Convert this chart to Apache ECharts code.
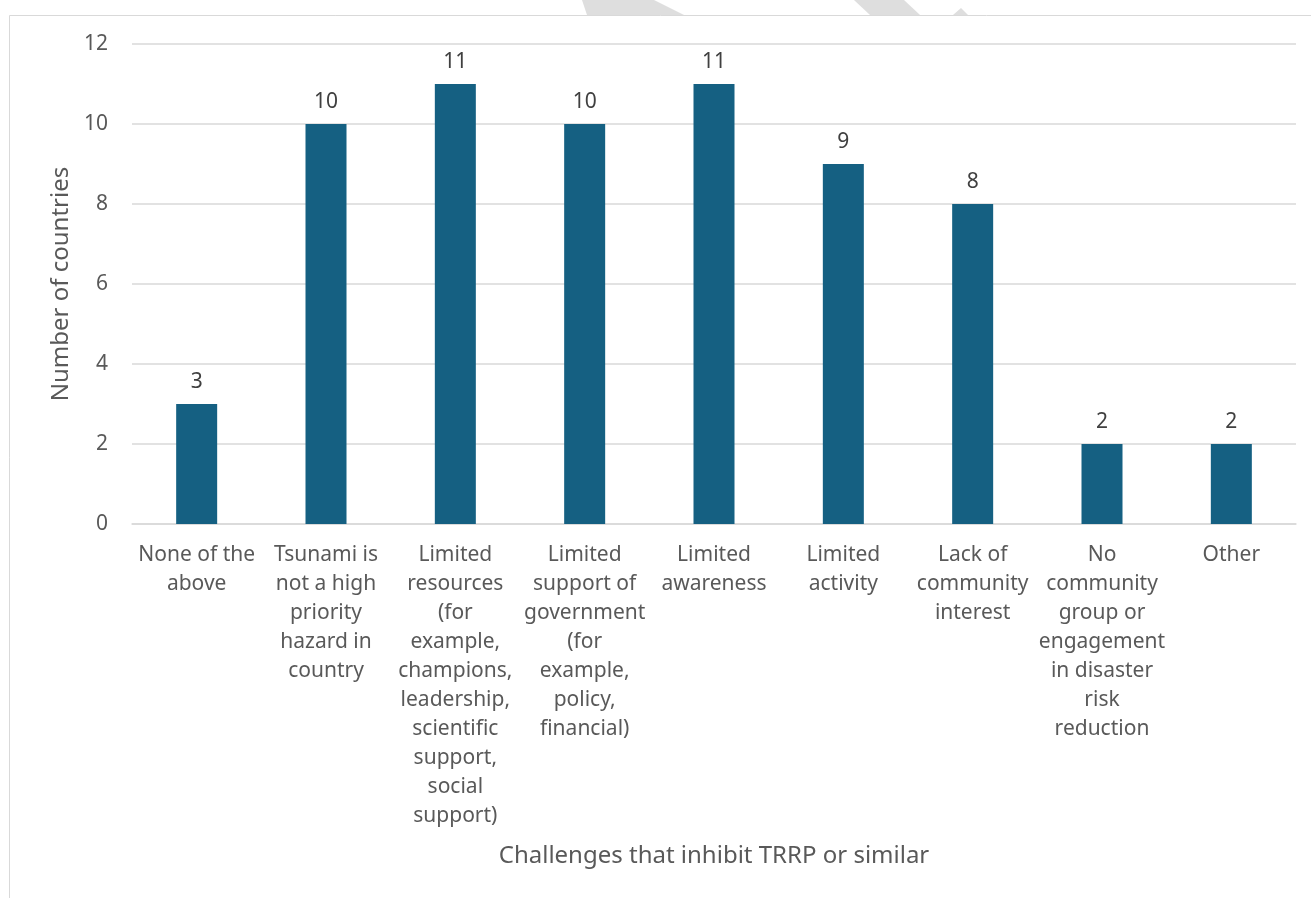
<!DOCTYPE html>
<html>
<head>
<meta charset="utf-8">
<script src="https://cdn.jsdelivr.net/npm/echarts@6/dist/echarts.min.js"></script>
<style>
html,body{margin:0;padding:0;background:#fff;}
#chart{width:1311px;height:898px;}
</style>
</head>
<body>
<div id="chart"></div>
<script>
const categories = [
  "None of the\nabove",
  "Tsunami is\nnot a high\npriority\nhazard in\ncountry",
  "Limited\nresources\n(for\nexample,\nchampions,\nleadership,\nscientific\nsupport,\nsocial\nsupport)",
  "Limited\nsupport of\ngovernment\n(for\nexample,\npolicy,\nfinancial)",
  "Limited\nawareness",
  "Limited\nactivity",
  "Lack of\ncommunity\ninterest",
  "No\ncommunity\ngroup or\nengagement\nin disaster\nrisk\nreduction",
  "Other"
];
const countries = [3, 10, 11, 10, 11, 9, 8, 2, 2];
const xTitle = "Challenges that inhibit TRRP or similar";
const yTitle = "Number of countries";

const FONT = "Noto Sans";
const TXT = "#595959";
const chart = echarts.init(document.getElementById('chart'));
chart.setOption({
  animation: false,
  backgroundColor: '#fff',
  textStyle: {fontFamily: FONT},
  graphic: [
    {type: 'rect', shape: {x: 9.5, y: 15.5, width: 1400, height: 1000}, style: {fill: 'none', stroke: '#d9d9d9', lineWidth: 1}, silent: true},
    {type: 'polygon', shape: {points: [[582,0],[654,0],[684,15],[587,15]]}, style: {fill: '#dedede'}, silent: true},
    {type: 'polygon', shape: {points: [[854,0],[904,0],[920,15],[870,15]]}, style: {fill: '#dedede'}, silent: true},
    {type: 'polygon', shape: {points: [[961,8],[968,15],[953,15]]}, style: {fill: '#dedede'}, silent: true}
  ],
  grid: {left: 132, right: 15, top: 44, bottom: 374, containLabel: false},
  xAxis: {
    type: 'category',
    data: categories,
    name: xTitle,
    nameLocation: 'middle',
    nameGap: 320,
    nameTextStyle: {color: TXT, fontSize: 24, fontFamily: FONT},
    axisLine: {show: true, lineStyle: {color: '#d9d9d9', width: 1.5}},
    axisTick: {show: false},
    axisLabel: {interval: 0, color: TXT, fontSize: 21, lineHeight: 29, margin: 17, fontFamily: FONT}
  },
  yAxis: {
    type: 'value',
    min: 0, max: 12, interval: 2,
    name: yTitle,
    nameLocation: 'middle',
    nameGap: 56,
    nameTextStyle: {color: TXT, fontSize: 24, fontFamily: FONT},
    axisLine: {show: false},
    axisTick: {show: false},
    axisLabel: {color: TXT, fontSize: 21, margin: 24, fontFamily: FONT},
    splitLine: {lineStyle: {color: '#d9d9d9', width: 1.5}}
  },
  series: [{
    type: 'bar',
    data: countries,
    barWidth: 41,
    itemStyle: {color: '#156082'},
    label: {show: true, position: 'top', distance: 11, color: '#404040', fontSize: 21, fontFamily: FONT}
  }]
});
</script>
</body>
</html>
